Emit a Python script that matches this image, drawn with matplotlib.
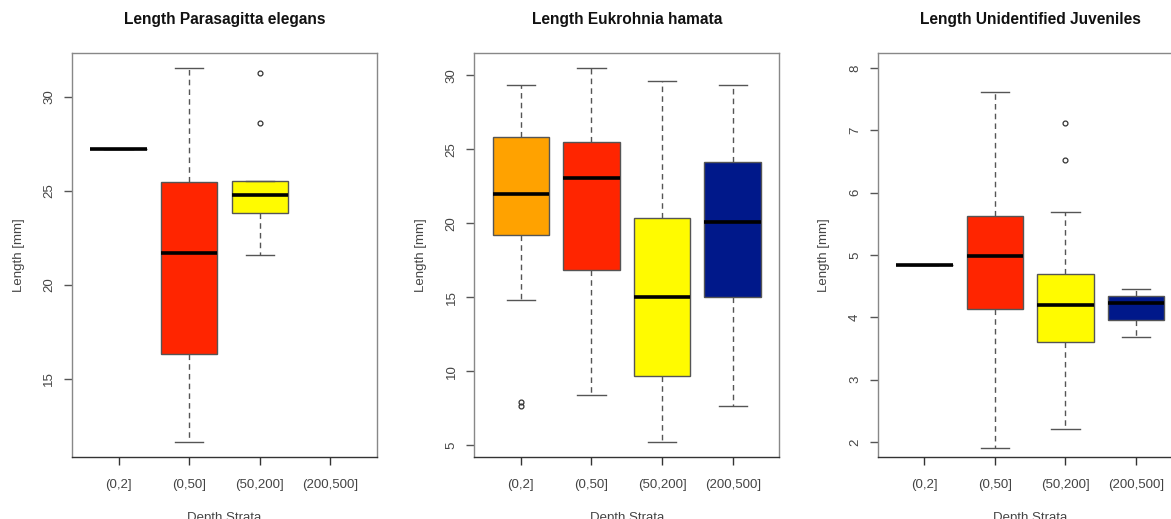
import matplotlib

matplotlib.use("Agg")
import matplotlib.pyplot as plt

plt.rcParams["font.family"] = ["Liberation Sans", "DejaVu Sans"]

# depth strata (x categories)
strata = ["(0,2]", "(0,50]", "(50,200]", "(200,500]"]
box_colors = ["#FFA200", "#FF2500", "#FFFB00", "#00188A"]

titles = [
    "Length Parasagitta elegans",
    "Length Eukrohnia hamata",
    "Length Unidentified Juveniles",
]

# Parasagitta elegans (no data for 200-500 m)
para_lo = [27.23, 11.62, 21.56, None]
para_q1 = [27.23, 16.28, 23.81, None]
para_med = [27.23, 21.68, 24.77, None]
para_q3 = [27.23, 25.46, 25.53, None]
para_hi = [27.23, 31.54, 25.53, None]
para_out = [[], [], [31.28, 28.62], []]

# Eukrohnia hamata
euk_lo = [14.82, 8.37, 5.22, 7.63]
euk_q1 = [19.22, 16.84, 9.65, 15.04]
euk_med = [22.0, 23.06, 15.0, 20.05]
euk_q3 = [25.80, 25.46, 20.32, 24.12]
euk_hi = [29.35, 30.49, 29.6, 29.35]
euk_out = [[7.92, 7.65], [], [], []]

# unidentified juveniles
juv_lo = [4.84, 1.90, 2.21, 3.68]
juv_q1 = [4.84, 4.13, 3.61, 3.95]
juv_med = [4.84, 4.99, 4.20, 4.23]
juv_q3 = [4.84, 5.62, 4.70, 4.34]
juv_hi = [4.84, 7.61, 5.69, 4.45]
juv_out = [[], [], [7.12, 6.53], []]

panels = [
    (para_lo, para_q1, para_med, para_q3, para_hi, para_out, (10.82, 32.34), [15, 20, 25, 30]),
    (euk_lo, euk_q1, euk_med, euk_q3, euk_hi, euk_out, (4.21, 31.5), [5, 10, 15, 20, 25, 30]),
    (juv_lo, juv_q1, juv_med, juv_q3, juv_hi, juv_out, (1.76, 8.24), [2, 3, 4, 5, 6, 7, 8]),
]

fig = plt.figure(figsize=(11.71, 5.19), dpi=100)
lefts = [0.0615, 0.405, 0.7495]

for i, (lo, q1, med, q3, hi, out, ylim, yticks) in enumerate(panels):
    ax = fig.add_axes([lefts[i], 0.1195, 0.2605, 0.7784])
    stats, pos, cols = [], [], []
    for j in range(len(strata)):
        if med[j] is None:
            continue
        stats.append(dict(whislo=lo[j], q1=q1[j], med=med[j], q3=q3[j],
                          whishi=hi[j], fliers=out[j]))
        pos.append(j + 1)
        cols.append(box_colors[j])
    bp = ax.bxp(stats, positions=pos, widths=0.8, capwidths=0.4,
                patch_artist=True, manage_ticks=False,
                boxprops=dict(edgecolor="#555555", linewidth=1),
                medianprops=dict(color="black", linewidth=2.6, solid_capstyle="butt"),
                whiskerprops=dict(color="#555555", linewidth=1, linestyle=(0, (4, 3))),
                capprops=dict(color="#555555", linewidth=1),
                flierprops=dict(marker="o", markerfacecolor="none",
                                markeredgecolor="#333333", markersize=3.5,
                                markeredgewidth=0.9))
    for patch, c in zip(bp["boxes"], cols):
        patch.set_facecolor(c)
    for m in bp["medians"]:
        m.set_zorder(5)

    ax.set_xlim(0.34, 4.66)
    ax.set_ylim(*ylim)
    ax.set_xticks(range(1, 5))
    ax.set_xticklabels(strata)
    ax.set_yticks(yticks)
    ax.tick_params(axis="x", length=6, width=1, pad=10, labelsize=9.5,
                   colors="#333333", labelcolor="#444444")
    ax.tick_params(axis="y", length=6, width=1, pad=6, labelsize=9.5,
                   colors="#555555", labelcolor="#444444", labelrotation=90)
    for lab in ax.get_yticklabels():
        lab.set_va("center")
    for side in ["top", "right", "left"]:
        ax.spines[side].set_color("#888888")
    ax.spines["bottom"].set_color("#333333")
    for sp in ax.spines.values():
        sp.set_linewidth(1)

    ax.set_ylabel("Length [mm]", fontsize=9.5, color="#444444")
    ax.yaxis.set_label_coords(-0.155, 0.5)
    ax.set_xlabel("Depth Strata", fontsize=9.5, color="#444444")
    ax.xaxis.set_label_coords(0.5, -0.137)
    ax.xaxis.label.set_va("top")
    ax.text(0.5, 1.082, titles[i], transform=ax.transAxes, ha="center",
            va="center", fontsize=11.2, fontweight="bold", color="#111111")

fig.savefig("out.png", dpi=100)
